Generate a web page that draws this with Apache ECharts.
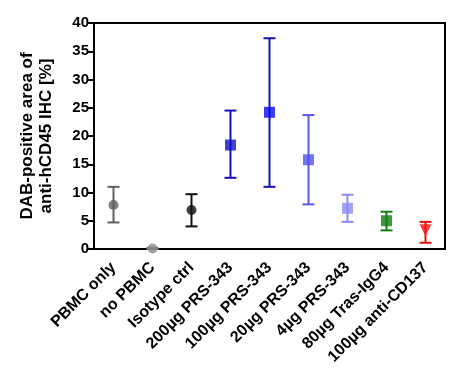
<!DOCTYPE html>
<html><head><meta charset="utf-8">
<script src="https://cdn.jsdelivr.net/npm/echarts@6/dist/echarts.min.js"></script>
<style>html,body{margin:0;padding:0;background:#fff}#c{width:453px;height:379px}</style>
</head><body><div id="c"></div>
<script>
const categories = ['PBMC only','no PBMC','Isotype ctrl','200µg PRS-343','100µg PRS-343','20µg PRS-343','4µg PRS-343','80µg Tras-IgG4','100µg anti-CD137'];
const means = [7.8, 0.1, 6.9, 18.4, 24.2, 15.8, 7.2, 5.0, 3.3];
const upper = [11.0, 0.2, 9.7, 24.5, 37.3, 23.7, 9.6, 6.6, 4.8];
const lower = [4.7, 0.0, 4.0, 12.6, 11.0, 7.9, 4.8, 3.3, 1.1];
const yTicks = [0,5,10,15,20,25,30,35,40];

const barColors = ['#606060','#707070','#101010','#1010b8','#1414b4','#5a5ae6','#8c8cf0','#108010','#e01010'];
const markColors = ['#606060','#8a8a8a','#101010','#1010c8','#0a0af0','#5050e8','#8c8cf0','#108010','#ff1010'];
const symbols = ['circle','circle','circle','rect','rect','rect','rect','rect','triangle'];

const chart = echarts.init(document.getElementById('c'));
const font = 'Liberation Sans, Arial, sans-serif';
chart.setOption({
  animation: false,
  grid: {left: 94, right: 8, top: 23, bottom: 130, show: true, borderColor: '#000', borderWidth: 2, containLabel: false},
  xAxis: {
    type: 'category', data: categories, boundaryGap: true,
    axisLine: {lineStyle: {color: '#000', width: 2}},
    axisTick: {alignWithLabel: true, length: 6, lineStyle: {width: 2, color: '#000'}},
    axisLabel: {rotate: 45, margin: 16, color: '#000', fontFamily: font, fontWeight: 'bold', fontSize: 16, interval: 0},
    splitLine: {show: false}
  },
  yAxis: {
    type: 'value', min: yTicks[0], max: yTicks[yTicks.length-1], interval: 5,
    name: 'DAB-positive area of\nanti-hCD45 IHC [%]', nameLocation: 'middle', nameGap: 38,
    nameTextStyle: {color: '#000', fontFamily: font, fontWeight: 'bold', fontSize: 17, lineHeight: 19},
    axisLine: {show: true, lineStyle: {color: '#000', width: 2}},
    axisTick: {show: true, length: 6, lineStyle: {width: 2, color: '#000'}},
    axisLabel: {color: '#000', fontFamily: font, fontWeight: 'bold', fontSize: 15, margin: 5},
    splitLine: {show: false}
  },
  series: [
    {
      type: 'custom', z: 2,
      data: categories.map((c, i) => [i, lower[i], upper[i]]),
      renderItem: function (params, api) {
        const i = api.value(0);
        const lo = api.coord([i, api.value(1)]);
        const hi = api.coord([i, api.value(2)]);
        const hw = 6;
        const style = {stroke: barColors[i], lineWidth: 2, fill: null};
        return {type: 'group', children: [
          {type: 'line', shape: {x1: lo[0], y1: lo[1], x2: hi[0], y2: hi[1]}, style: style},
          {type: 'line', shape: {x1: lo[0]-hw, y1: lo[1], x2: lo[0]+hw, y2: lo[1]}, style: style},
          {type: 'line', shape: {x1: hi[0]-hw, y1: hi[1], x2: hi[0]+hw, y2: hi[1]}, style: style}
        ]};
      }
    },
    {
      type: 'scatter', z: 3,
      data: categories.map((c, i) => ({
        value: [i, means[i]],
        symbol: symbols[i],
        symbolSize: symbols[i] === 'circle' ? 10 : (symbols[i] === 'triangle' ? 12 : 11),
        symbolRotate: symbols[i] === 'triangle' ? 180 : 0,
        itemStyle: {color: markColors[i]}
      }))
    }
  ]
});
</script></body></html>
